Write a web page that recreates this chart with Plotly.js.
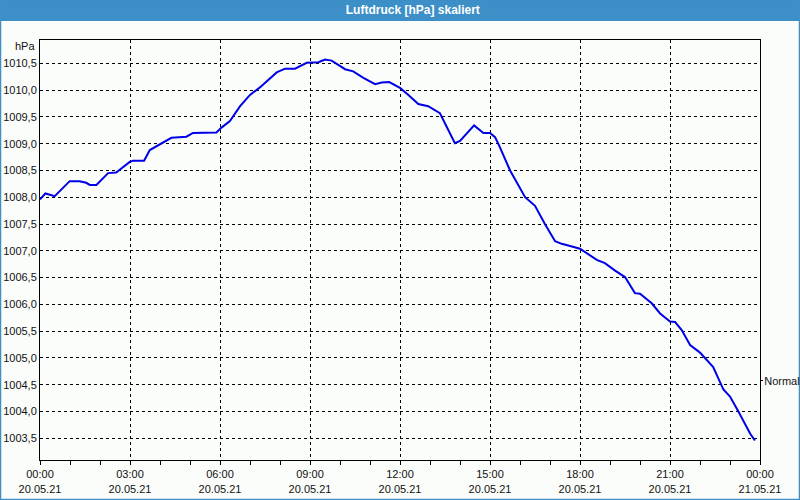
<!DOCTYPE html>
<html>
<head>
<meta charset="utf-8">
<script src="https://cdn.plot.ly/plotly-3.0.1.min.js"></script>
<style>
html,body{margin:0;padding:0;background:#fbfdfb;}
#chart{width:800px;height:500px;}
</style>
</head>
<body>
<div id="chart"></div>
<script>
// time in hours since 20.05.21 00:00
const hours = [0.0,0.18,0.3,0.49,0.99,1.32,1.54,1.66,1.88,2.27,2.54,2.99,3.1,3.47,3.66,4.04,4.38,4.88,5.1,5.88,6.05,6.33,6.67,7.0,7.33,7.89,8.17,8.5,8.89,9.28,9.5,9.72,10.17,10.44,10.78,11.17,11.39,11.64,12.0,12.28,12.61,12.94,13.33,13.56,13.83,14.0,14.47,14.78,15.0,15.17,15.31,15.67,16.0,16.17,16.5,16.83,17.17,17.39,17.67,18.0,18.56,18.83,19.17,19.5,19.83,20.0,20.39,20.67,21.0,21.17,21.39,21.67,22.0,22.28,22.44,22.78,23.0,23.28,23.5,23.67,23.83];
const pressure = [1007.96,1008.07,1008.05,1008.02,1008.30,1008.30,1008.27,1008.23,1008.23,1008.45,1008.46,1008.66,1008.68,1008.68,1008.88,1009.01,1009.11,1009.13,1009.20,1009.21,1009.30,1009.42,1009.70,1009.91,1010.05,1010.33,1010.40,1010.40,1010.51,1010.52,1010.57,1010.55,1010.39,1010.35,1010.23,1010.11,1010.14,1010.15,1010.04,1009.91,1009.74,1009.70,1009.57,1009.31,1009.01,1009.05,1009.34,1009.20,1009.20,1009.12,1008.96,1008.50,1008.18,1008.00,1007.84,1007.50,1007.18,1007.13,1007.09,1007.04,1006.83,1006.77,1006.63,1006.51,1006.21,1006.20,1006.02,1005.83,1005.68,1005.67,1005.52,1005.24,1005.10,1004.94,1004.83,1004.41,1004.28,1004.00,1003.78,1003.59,1003.46];
const tickHours = [0,3,6,9,12,15,18,21,24];
const tickTimes = ['00:00','03:00','06:00','09:00','12:00','15:00','18:00','21:00','00:00'];
const tickDates = ['20.05.21','20.05.21','20.05.21','20.05.21','20.05.21','20.05.21','20.05.21','20.05.21','21.05.21'];
const normalValue = [1004.57];
const normalLabel = ['Normal'];
const chartTitle = 'Luftdruck [hPa] skaliert';
const unitLabel = 'hPa';

const ticktext = tickTimes.map((t,i)=>t+'<br>'+tickDates[i]);
const yRange = [1003.095, 1010.935];
const font = {family:'"Liberation Sans", Arial, sans-serif', size:11, color:'#111'};

const trace = {
  x: hours, y: pressure, type:'scatter', mode:'lines',
  line:{color:'#0000e6', width:2}, hoverinfo:'skip', showlegend:false
};
const dummy = {x:[0], y:[1004.57], yaxis:'y2', type:'scatter', mode:'markers',
  marker:{opacity:0}, hoverinfo:'skip', showlegend:false};

const W=720, H=420;
const layout = {
  width:800, height:500,
  margin:{l:40, r:40, t:40, b:40, pad:0},
  paper_bgcolor:'#fbfdfb', plot_bgcolor:'#fbfdfb',
  font: font,
  separators: ',.',
  title:{text:'<b>'+chartTitle+'</b>', font:{family:'"Liberation Sans", Arial, sans-serif', size:12, color:'#ffffff'},
         x:0.516, xref:'container', xanchor:'center', y:0.98, yref:'container', yanchor:'middle'},
  xaxis:{
    range:[0,24], tickvals:tickHours, ticktext:ticktext,
    showline:true, linecolor:'#000', linewidth:1, mirror:true,
    ticks:'outside', ticklen:4, tickcolor:'#000',
    showgrid:true, gridcolor:'#000', gridwidth:1, griddash:'3px,3px',
    minor:{dtick:1, tick0:0, ticks:'outside', ticklen:4, tickcolor:'#000', showgrid:false},
    zeroline:false, tickfont:font, fixedrange:true
  },
  yaxis:{
    range:yRange, tick0:1003.5, dtick:0.5, tickformat:'.1f',
    showline:true, linecolor:'#000', linewidth:1, mirror:true,
    ticks:'', showgrid:true, gridcolor:'#000', gridwidth:1, griddash:'3px,3px',
    zeroline:false, tickfont:font, fixedrange:true
  },
  yaxis2:{
    range:yRange, overlaying:'y', side:'right', tickvals:normalValue, ticktext:normalLabel,
    ticks:'outside', ticklen:2, tickcolor:'#000', showgrid:false, showline:false, zeroline:false,
    ticklabelstandoff:-1,
    tickfont:{family:'"Liberation Sans Narrow", "Liberation Sans", Arial, sans-serif', size:11, color:'#111'}, fixedrange:true
  },
  shapes:[
    {type:'rect', xref:'paper', yref:'paper', x0:-40/W, x1:1+40/W, y0:(460-21)/H, y1:(460+1)/H,
     fillcolor:'#3c8fc7', line:{width:0}, layer:'below'},
    {type:'rect', xref:'paper', yref:'paper', x0:-40/W+0.5/W, x1:1+40/W-0.5/W, y0:-40/H+0.5/H, y1:1+40/H,
     fillcolor:'rgba(0,0,0,0)', line:{width:1.5, color:'#3c8fc7'}, layer:'below'}
  ],
  annotations:[
    {text:unitLabel, xref:'paper', yref:'paper', x:0, y:(460-46)/H, xanchor:'right', yanchor:'middle',
     xshift:-3, showarrow:false, font:font}
  ]
};
Plotly.newPlot('chart',[trace,dummy],layout,{displayModeBar:false, staticPlot:true});
</script>
</body>
</html>
